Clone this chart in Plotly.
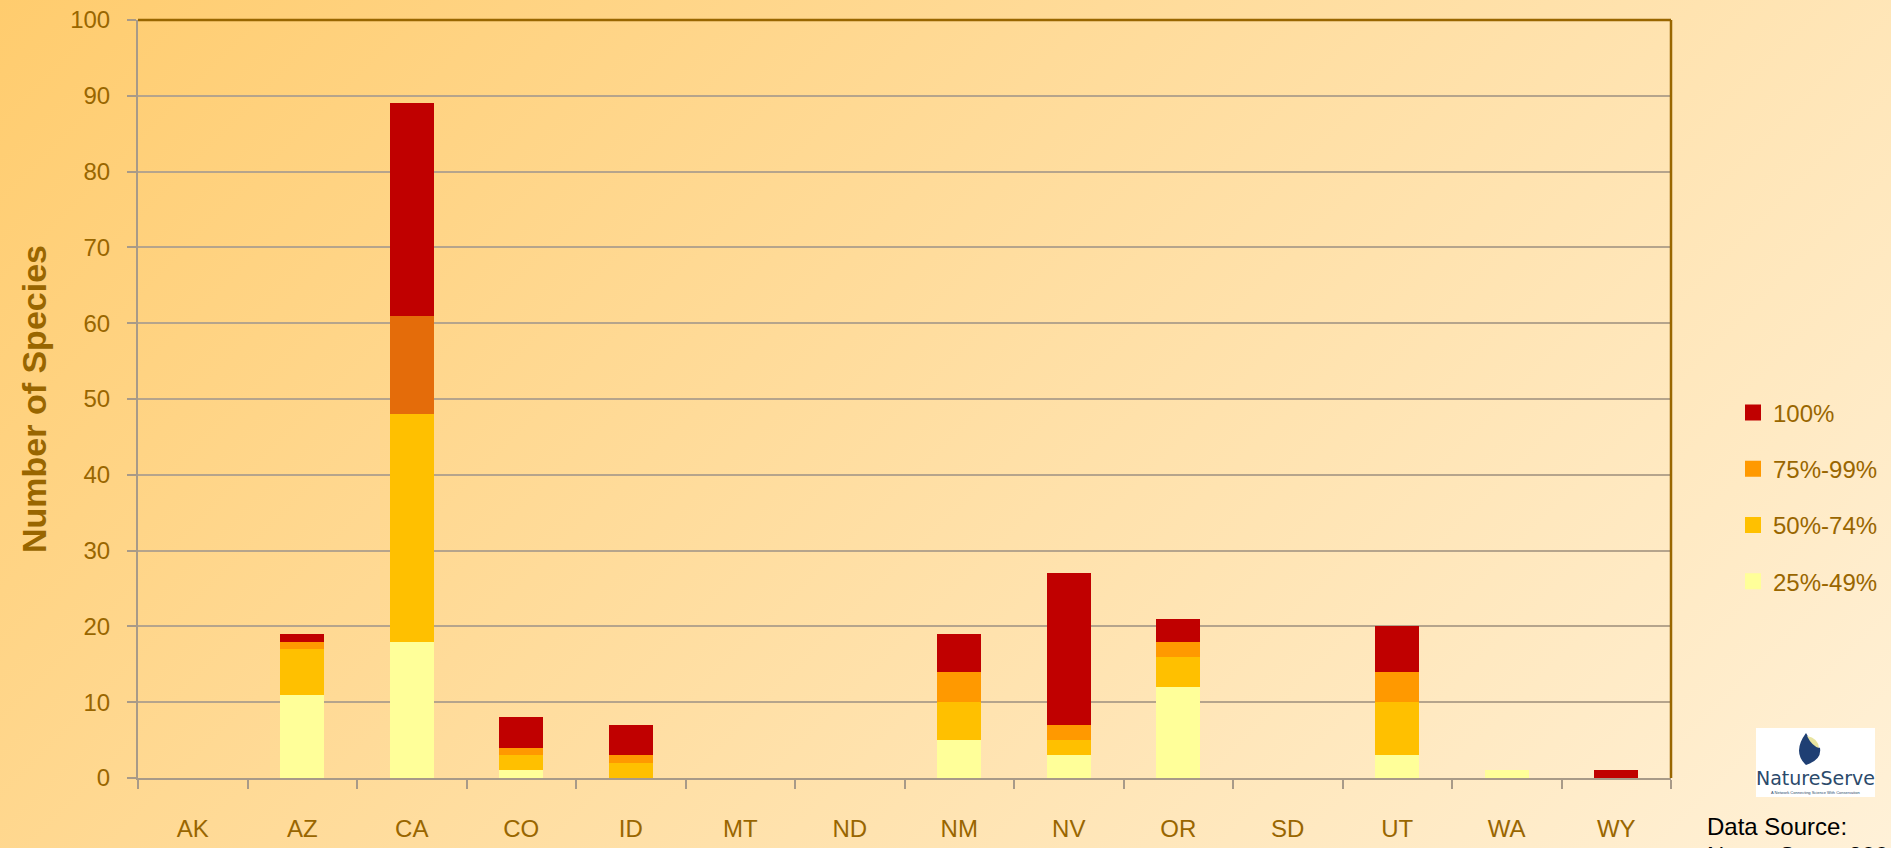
import base64
import plotly.graph_objects as go

# ---------------- data ----------------
states = ["AK", "AZ", "CA", "CO", "ID", "MT", "ND", "NM", "NV", "OR", "SD", "UT", "WA", "WY"]
pct_25_49 = [0, 11, 18, 1, 0, 0, 0, 5, 3, 12, 0, 3, 1, 0]
pct_50_74 = [0, 6, 30, 2, 2, 0, 0, 5, 2, 4, 0, 7, 0, 0]
pct_75_99 = [0, 1, 13, 1, 1, 0, 0, 4, 2, 2, 0, 4, 0, 0]
pct_100 = [0, 1, 28, 4, 4, 0, 0, 5, 20, 3, 0, 6, 0, 1]
series_names = ["25%-49%", "50%-74%", "75%-99%", "100%"]
y_ticks = [0, 10, 20, 30, 40, 50, 60, 70, 80, 90, 100]

# ---------------- styling ----------------
W, H = 1891, 848
L, R, T, B = 138, 220, 20, 70
PW, PH = W - L - R, H - T - B
TXT = "#996600"
FONT = "Arial, Liberation Sans, sans-serif"
GRID = "#B5A48C"
AXIS = "#A89A88"

def px(x):
    return (x - L) / PW

def py(y):
    return (H - B - y) / PH

colors = ["#FFFF99", "#FFC000", "#FF9900", "#C00000"]
orange_per_bar = ["#E46C0A" if s == "CA" else "#FF9900" for s in states]

fig = go.Figure()
values = [pct_25_49, pct_50_74, pct_75_99, pct_100]
for i, (name, vals) in enumerate(zip(series_names, values)):
    mcol = orange_per_bar if i == 2 else colors[i]
    fig.add_trace(go.Bar(x=states, y=vals, name=name, marker=dict(color=mcol, line=dict(width=0)),
                         showlegend=False))
# legend proxies (square markers), top entry = 100%
for rank, i in enumerate([3, 2, 1, 0]):
    name = series_names[i]
    fig.add_trace(go.Scatter(x=[None], y=[None], mode="markers", name=name, legendgroup=name,
                             legendrank=rank + 1,
                             marker=dict(symbol="square", size=16, color=colors[i])))

svg = (
    f"<svg xmlns='http://www.w3.org/2000/svg' width='{W}' height='{H}'>"
    f"<defs><linearGradient id='g' gradientUnits='userSpaceOnUse' x1='0' y1='0' "
    f"x2='{(W + H) / 2}' y2='{(W + H) / 2}'>"
    "<stop offset='0' stop-color='rgb(255,204,110)'/>"
    "<stop offset='1' stop-color='rgb(255,241,216)'/>"
    "</linearGradient></defs>"
    f"<rect width='{W}' height='{H}' fill='url(#g)'/></svg>"
)
src = "data:image/svg+xml;base64," + base64.b64encode(svg.encode()).decode()

fig.update_layout(
    width=W, height=H, autosize=False,
    margin=dict(l=L, r=R, t=T, b=B, pad=0, autoexpand=False),
    barmode="stack", bargap=0.6,
    paper_bgcolor="#FFD58A", plot_bgcolor="rgba(0,0,0,0)",
    font=dict(family=FONT, color=TXT, size=24),
    images=[dict(source=src, xref="paper", yref="paper", x=px(0), y=py(0),
                 sizex=W / PW, sizey=H / PH, sizing="stretch", layer="below",
                 xanchor="left", yanchor="top")],
    xaxis=dict(showgrid=False, showline=True, linecolor=AXIS, linewidth=2, automargin=False,
               ticks="outside", tickson="boundaries", ticklen=9, tickcolor=AXIS, tickwidth=2,
               tickfont=dict(size=24, color=TXT), ticklabelstandoff=28, fixedrange=True),
    yaxis=dict(range=[0, 100], tickvals=y_ticks, showgrid=True, gridcolor=GRID, gridwidth=1.5,
               zeroline=False, showline=True, linecolor=AXIS, linewidth=2, automargin=False,
               ticks="outside", ticklen=9, tickcolor=AXIS, tickwidth=2,
               tickfont=dict(size=24, color=TXT), ticklabelstandoff=12, fixedrange=True),
    legend=dict(x=px(1733), xanchor="left", y=py(497), yanchor="middle",
                traceorder="grouped", tracegroupgap=22,
                font=dict(size=24, color=TXT), bgcolor="rgba(0,0,0,0)", itemwidth=30),
    shapes=[
        dict(type="line", xref="paper", yref="paper", x0=0, x1=1, y0=1, y1=1,
             line=dict(color="#996600", width=2.5)),
        dict(type="line", xref="paper", yref="paper", x0=1, x1=1, y0=0, y1=1,
             line=dict(color="#996600", width=2.5)),
        # NatureServe logo box
        dict(type="rect", xref="paper", yref="paper", x0=px(1756), x1=px(1875), y0=py(797), y1=py(728),
             fillcolor="white", line=dict(width=0)),
        # butterfly wings
        dict(type="path", xref="paper", yref="paper",
             path=(f"M {px(1806)},{py(733)} Q {px(1792)},{py(752)} {px(1806)},{py(765)} "
                   f"Q {px(1822)},{py(760)} {px(1820)},{py(748)} Q {px(1812)},{py(745)} {px(1806)},{py(733)} Z"),
             fillcolor="#1F3F73", line=dict(width=0)),
        dict(type="path", xref="paper", yref="paper",
             path=(f"M {px(1807)},{py(736)} Q {px(1818)},{py(738)} {px(1819)},{py(748)} "
                   f"Q {px(1812)},{py(746)} {px(1807)},{py(736)} Z"),
             fillcolor="#E8E4A0", line=dict(width=0)),
    ],
    annotations=[
        dict(text="<b>Number of Species</b>", xref="paper", yref="paper", x=px(34), y=0.5,
             textangle=-90, showarrow=False, font=dict(size=34, color=TXT),
             xanchor="center", yanchor="middle"),
        dict(text="NatureServe", xref="paper", yref="paper", x=px(1815.5), y=py(778),
             showarrow=False, font=dict(size=19, color="#2B4A6B", family="DejaVu Sans"),
             xanchor="center", yanchor="middle"),
        dict(text="A Network Connecting Science With Conservation", xref="paper", yref="paper",
             x=px(1815.5), y=py(792), showarrow=False, font=dict(size=4, color="#2B4A6B"),
             xanchor="center", yanchor="middle"),
        dict(text="Data Source:", xref="paper", yref="paper", x=px(1705), y=py(826),
             showarrow=False, font=dict(size=24, color="black"), xanchor="left", yanchor="middle"),
        dict(text="NatureServe 2008", xref="paper", yref="paper", x=px(1705), y=py(855),
             showarrow=False, font=dict(size=24, color="black"), xanchor="left", yanchor="middle"),
    ],
)

fig.write_html("out.html", config={"displayModeBar": False},
               post_script="document.body.style.margin='0';document.body.style.overflow='hidden';")
